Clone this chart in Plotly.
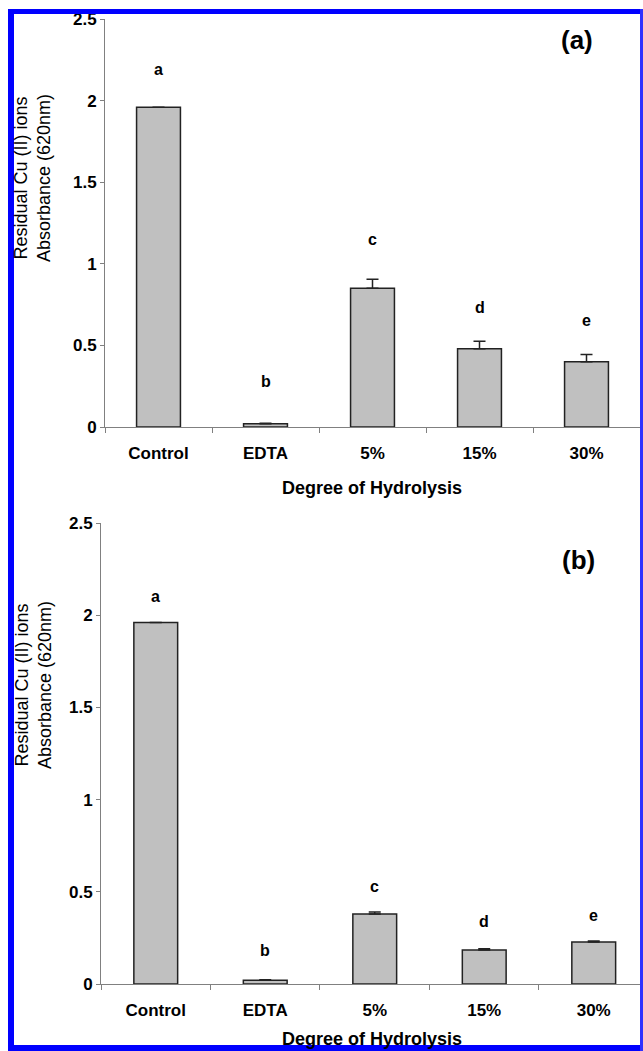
import plotly.graph_objects as go

W, H = 643, 1051

categories = ["Control", "EDTA", "5%", "15%", "30%"]
a_values = [1.96, 0.02, 0.85, 0.48, 0.40]
a_errors = [0.0, 0.003, 0.055, 0.045, 0.045]
a_letters = ["a", "b", "c", "d", "e"]
a_letter_pos = [2.19, 0.28, 1.15, 0.735, 0.655]

b_values = [1.96, 0.02, 0.38, 0.185, 0.228]
b_errors = [0.0, 0.003, 0.01, 0.006, 0.005]
b_letters = ["a", "b", "c", "d", "e"]
b_letter_pos = [2.10, 0.18, 0.53, 0.34, 0.37]

y_title_lines = ["Residual Cu (II) ions", "Absorbance (620nm)"]
x_title = "Degree of Hydrolysis"

FONT = "Liberation Sans, Arial, Helvetica, sans-serif"


def px(x):
    return x / W


def py(y):
    return 1 - y / H


fig = go.Figure()

bar_style = dict(marker=dict(color="#c0c0c0", line=dict(color="#222222", width=1.5)))
for vals, errs, xa, ya, w in [(a_values, a_errors, "x", "y", 0.41),
                              (b_values, b_errors, "x2", "y2", 0.40)]:
    fig.add_trace(go.Bar(
        x=categories, y=vals, width=w, xaxis=xa, yaxis=ya,
        error_y=dict(type="data", array=errs, arrayminus=[0] * len(errs), symmetric=False,
                     color="#222222", thickness=1.5, width=6),
        showlegend=False, hoverinfo="x+y", **bar_style))

annotations = []
for letters, pos, xr, yr in [(a_letters, a_letter_pos, "x", "y"),
                             (b_letters, b_letter_pos, "x2", "y2")]:
    for c, l, p in zip(categories, letters, pos):
        annotations.append(dict(x=c, y=p, xref=xr, yref=yr, text=l, showarrow=False,
                                xanchor="center", yanchor="middle",
                                font=dict(family=FONT, size=16, color="black", weight="bold")))

# panel labels
for txt, cx, cy in [("(a)", 577, 40), ("(b)", 578, 560)]:
    annotations.append(dict(x=px(cx), y=py(cy), xref="paper", yref="paper", text=txt,
                            showarrow=False, xanchor="center", yanchor="middle",
                            font=dict(family=FONT, size=26, color="black", weight="bold")))

# axis titles
for cy, xt_y in [(178, 488), (685, 1039)]:
    annotations.append(dict(x=px(33), y=py(cy), xref="paper", yref="paper",
                            text="<br>".join(y_title_lines), textangle=-90, showarrow=False,
                            xanchor="center", yanchor="middle",
                            font=dict(family=FONT, size=18, color="black")))
    annotations.append(dict(x=px(372), y=py(xt_y), xref="paper", yref="paper", text=x_title,
                            showarrow=False, xanchor="center", yanchor="middle",
                            font=dict(family=FONT, size=18, color="black", weight="bold")))

tickfont = dict(family=FONT, size=17, color="black", weight="bold")
xcommon = dict(type="category", showline=True, linecolor="#808080", linewidth=1,
               ticks="outside", tickson="boundaries", ticklen=5, tickcolor="#808080",
               tickfont=tickfont, showgrid=False, zeroline=False, automargin=False,
               ticklabelstandoff=11)
ycommon = dict(range=[0, 2.5], dtick=0.5, showline=True, linecolor="#808080", linewidth=1,
               ticks="outside", ticklen=4, tickcolor="#808080", tickfont=tickfont,
               showgrid=False, zeroline=False, automargin=False)

shapes = [
    dict(type="rect", xref="paper", yref="paper", x0=px(8), x1=px(14), y0=py(1051), y1=py(9),
         fillcolor="#0000ff", line=dict(width=0), layer="above"),
    dict(type="rect", xref="paper", yref="paper", x0=px(8), x1=px(643), y0=py(14), y1=py(9),
         fillcolor="#0000ff", line=dict(width=0), layer="above"),
    dict(type="rect", xref="paper", yref="paper", x0=px(8), x1=px(643), y0=py(1051), y1=py(1045),
         fillcolor="#0000ff", line=dict(width=0), layer="above"),
    dict(type="rect", xref="paper", yref="paper", x0=px(640), x1=px(643), y0=py(1051), y1=py(9),
         fillcolor="#3030ff", line=dict(width=0), layer="above"),
]

fig.update_layout(
    width=W, height=H, margin=dict(l=0, r=0, t=0, b=0),
    paper_bgcolor="white", plot_bgcolor="white",
    bargap=0.6,
    xaxis=dict(domain=[px(105), px(640)], range=[-0.5, 4.5], anchor="y", **xcommon),
    yaxis=dict(domain=[py(427), py(19)], anchor="x", **ycommon),
    xaxis2=dict(domain=[px(101), 1.0], range=[-0.5, 4.45], anchor="y2", **xcommon),
    yaxis2=dict(domain=[py(984), py(523)], anchor="x2", **ycommon),
    annotations=annotations, shapes=shapes,
)

fig.write_html("out.html")
